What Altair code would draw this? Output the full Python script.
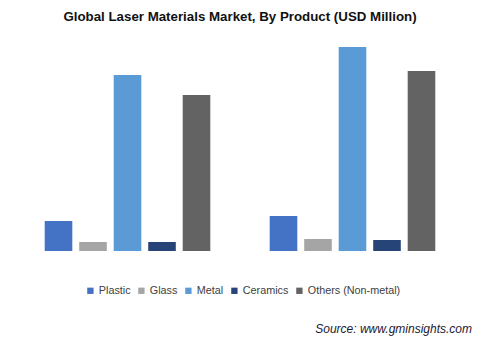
import altair as alt
import pandas as pd

groups = ["2015", "2024"]
products = ["Plastic", "Glass", "Metal", "Ceramics", "Others (Non-metal)"]
colors = ["#4472C4", "#A5A5A5", "#5B9BD5", "#264478", "#636363"]
plastic = [30, 35]
glass = [9, 12]
metal = [176, 204]
ceramics = [9, 11]
others = [156, 180]

series = [plastic, glass, metal, ceramics, others]
rows = []
for p, vals in zip(products, series):
    for g, v in zip(groups, vals):
        rows.append({"group": g, "product": p, "value": v})
df = pd.DataFrame(rows)

bars = alt.Chart(df).mark_bar().encode(
    x=alt.X("group:N", axis=None,
            scale=alt.Scale(paddingInner=0.2333, paddingOuter=0.1167)),
    xOffset=alt.XOffset("product:N", sort=products,
                        scale=alt.Scale(paddingInner=0.2, paddingOuter=0.1)),
    y=alt.Y("value:Q", axis=None, scale=alt.Scale(domain=[0, 215], nice=False)),
    color=alt.Color("product:N", sort=products,
                    scale=alt.Scale(domain=products, range=colors),
                    legend=alt.Legend(title=None, orient="none", direction="horizontal",
                                      legendX=70, legendY=249,
                                      symbolType="square", symbolSize=40,
                                      symbolStrokeWidth=0,
                                      labelFont="Liberation Sans", labelFontSize=10.8,
                                      labelColor="#404040", columnPadding=5,
                                      labelOffset=3)),
)

source = alt.Chart(pd.DataFrame({"t": ["Source: www.gminsights.com"]})).mark_text(
    align="right", baseline="alphabetic", font="Liberation Sans", fontSize=12,
    fontStyle="italic", color="#1a1a33"
).encode(text="t:N", x=alt.value(457), y=alt.value(297))

chart = alt.layer(bars, source).properties(
    width=450, height=215,
    autosize=alt.AutoSizeParams(type="none"),
    padding={"left": 15, "top": 36, "right": 15, "bottom": 95},
    title=alt.Title("Global Laser Materials Market, By Product (USD Million)",
                    font="Liberation Sans", fontSize=13.3, fontWeight="bold",
                    color="#111111", anchor="middle", offset=13),
).configure_view(stroke=None)

chart.save("out.html", embed_options={"renderer": "svg", "actions": False})
